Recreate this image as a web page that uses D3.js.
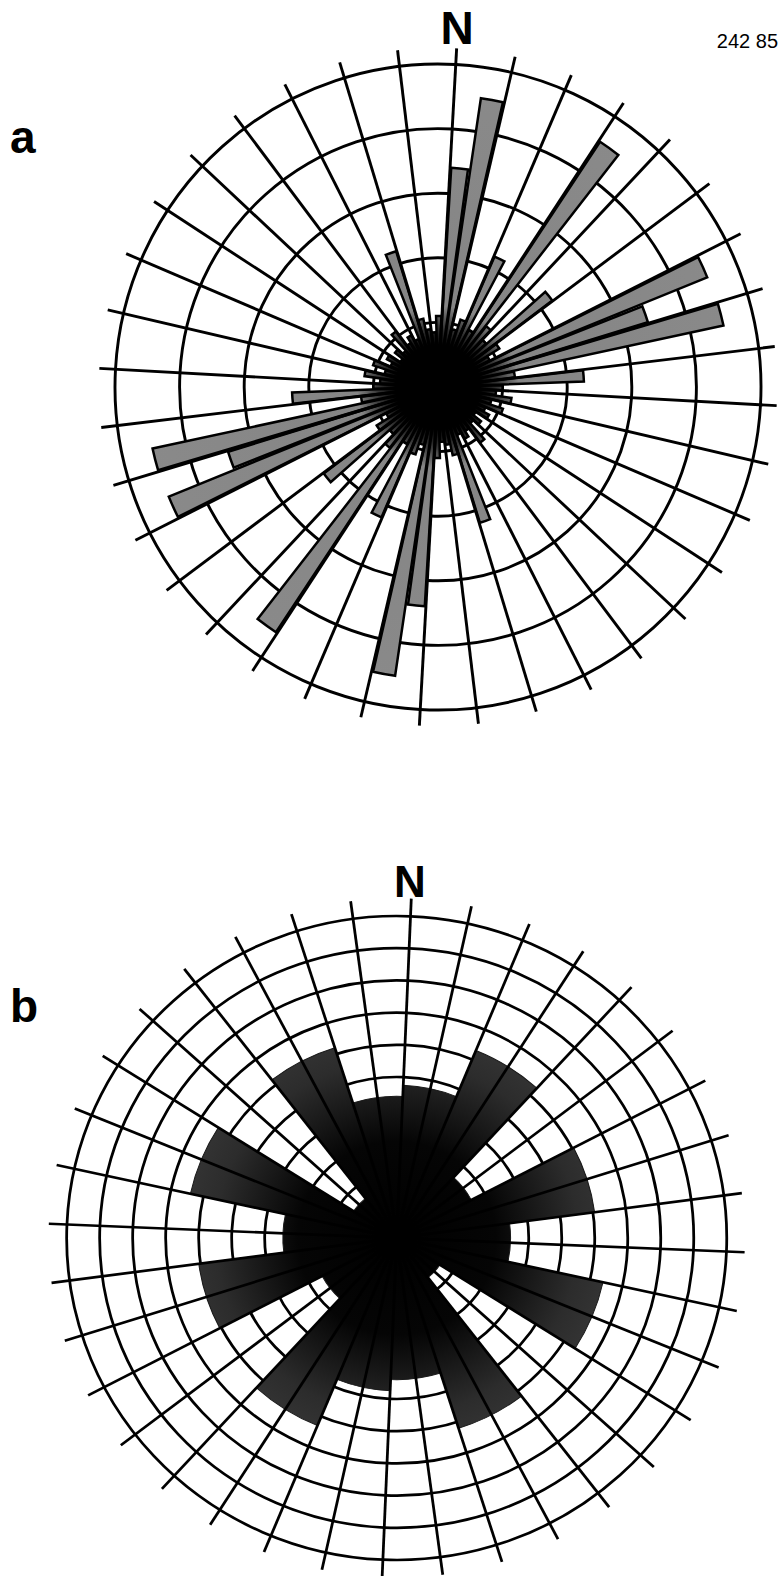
<!DOCTYPE html>
<html>
<head>
<meta charset="utf-8">
<script src="https://cdn.jsdelivr.net/npm/d3@7"></script>
<style>
  html, body { margin: 0; padding: 0; background: #fff; }
  svg { display: block; }
  text { font-family: "Liberation Sans", Arial, Helvetica, sans-serif; fill: #000; }
</style>
</head>
<body>
<script>
// ---- Rose a: 5° classes over 0–180° (axial data, each class also drawn at +180°)
const binStartA = d3.range(0, 180, 5);
const valuesA = [
  3.40, 4.52, 0.92, 1.10, 2.20, 1.00, 4.55, 1.20, 1.00, 2.22, 1.12, 0.90,
  4.50, 3.40, 4.52, 1.20, 2.26, 1.00, 0.90, 1.15, 0.85, 1.06, 0.80, 0.90,
  0.70, 0.85, 0.75, 1.08, 0.80, 0.90, 0.80, 2.20, 1.08, 0.90, 0.85, 1.10
];
const ringsA = [1, 2, 3, 4, 5];

// ---- Rose b: 20° classes over 0–180° (axial data, mirrored the same way)
const binStartB = d3.range(0, 180, 20);
const valuesB = [4.75, 6.30, 2.55, 6.05, 3.45, 6.40, 1.55, 6.20, 4.40];
const ringsB = d3.range(1, 11);

const spokeAngles = d3.range(0, 360, 10);

const W = 781, H = 1576;
const svg = d3.select("body").append("svg")
  .attr("width", W).attr("height", H)
  .attr("viewBox", `0 0 ${W} ${H}`);

const deg = d3.scaleLinear().domain([0, 360]).range([0, 2 * Math.PI]);
const defs = svg.append("defs");

function gradient(id, outerR, stops) {
  const g = defs.append("radialGradient")
    .attr("id", id).attr("gradientUnits", "userSpaceOnUse")
    .attr("cx", 0).attr("cy", 0).attr("r", outerR);
  stops.forEach(([o, c]) => g.append("stop").attr("offset", o).attr("stop-color", c));
}

function rose(opt) {
  const r = d3.scaleLinear().domain([0, opt.maxUnits]).range([0, opt.radius]);
  const g = svg.append("g")
    .attr("transform", `translate(${opt.cx},${opt.cy}) scale(${opt.sx},1) rotate(${opt.rot})`);

  // concentric rings
  g.append("g").selectAll("circle").data(opt.rings).join("circle")
    .attr("r", d => r(d))
    .attr("fill", "none").attr("stroke", "#000").attr("stroke-width", opt.gridWidth);

  // class bars, each class drawn in both opposite directions
  const items = [];
  opt.bins.forEach((b, i) => {
    items.push({ a0: b, v: opt.values[i] });
    items.push({ a0: b + 180, v: opt.values[i] });
  });
  const arc = d3.arc()
    .innerRadius(0)
    .outerRadius(d => r(d.v))
    .startAngle(d => deg(d.a0 + opt.pad))
    .endAngle(d => deg(d.a0 + opt.binWidth - opt.pad));
  g.append("g").selectAll("path").data(items).join("path")
    .attr("d", arc)
    .attr("fill", `url(#${opt.fillId})`)
    .attr("stroke", opt.barStroke)
    .attr("stroke-width", opt.barStrokeWidth)
    .attr("stroke-linejoin", "miter");

  // radial spokes every 10°
  const L = r(opt.spokeUnits);
  g.append("g").selectAll("line").data(spokeAngles).join("line")
    .attr("x1", 0).attr("y1", 0)
    .attr("x2", d => L * Math.sin(deg(d)))
    .attr("y2", d => -L * Math.cos(deg(d)))
    .attr("stroke", "#000").attr("stroke-width", opt.gridWidth);
}

gradient("fillA", 323, [[0, "#000"], [0.13, "#000"], [0.19, "#3a3a3a"], [0.25, "#858585"], [1, "#8a8a8a"]]);
gradient("fillB", 322, [[0, "#000"], [0.3, "#050505"], [0.55, "#2c2c2c"], [1, "#4e4e4e"]]);

rose({
  cx: 438, cy: 387, sx: 1, rot: 3.15,
  radius: 323, maxUnits: 5, rings: ringsA, spokeUnits: 5.25,
  bins: binStartA, values: valuesA, binWidth: 5, pad: 0.3,
  fillId: "fillA", barStroke: "#000", barStrokeWidth: 2.5, gridWidth: 2.9
});

rose({
  cx: 396.7, cy: 1238, sx: 1.025, rot: 2.4,
  radius: 322, maxUnits: 10, rings: ringsB, spokeUnits: 10.55,
  bins: binStartB, values: valuesB, binWidth: 20, pad: 0,
  fillId: "fillB", barStroke: "#1a1a1a", barStrokeWidth: 1, gridWidth: 2.7
});

// labels
svg.append("text").attr("x", 457).attr("y", 44).attr("text-anchor", "middle")
  .attr("font-size", 46).attr("font-weight", "bold").text("N");
svg.append("text").attr("x", 778).attr("y", 48).attr("text-anchor", "end")
  .attr("font-size", 20).text("242 85");
svg.append("text").attr("x", 10).attr("y", 153)
  .attr("font-size", 46).attr("font-weight", "bold").text("a");
svg.append("text").attr("x", 410).attr("y", 897).attr("text-anchor", "middle")
  .attr("font-size", 44).attr("font-weight", "bold").text("N");
svg.append("text").attr("x", 10).attr("y", 1022)
  .attr("font-size", 46).attr("font-weight", "bold").text("b");
</script>
</body>
</html>
